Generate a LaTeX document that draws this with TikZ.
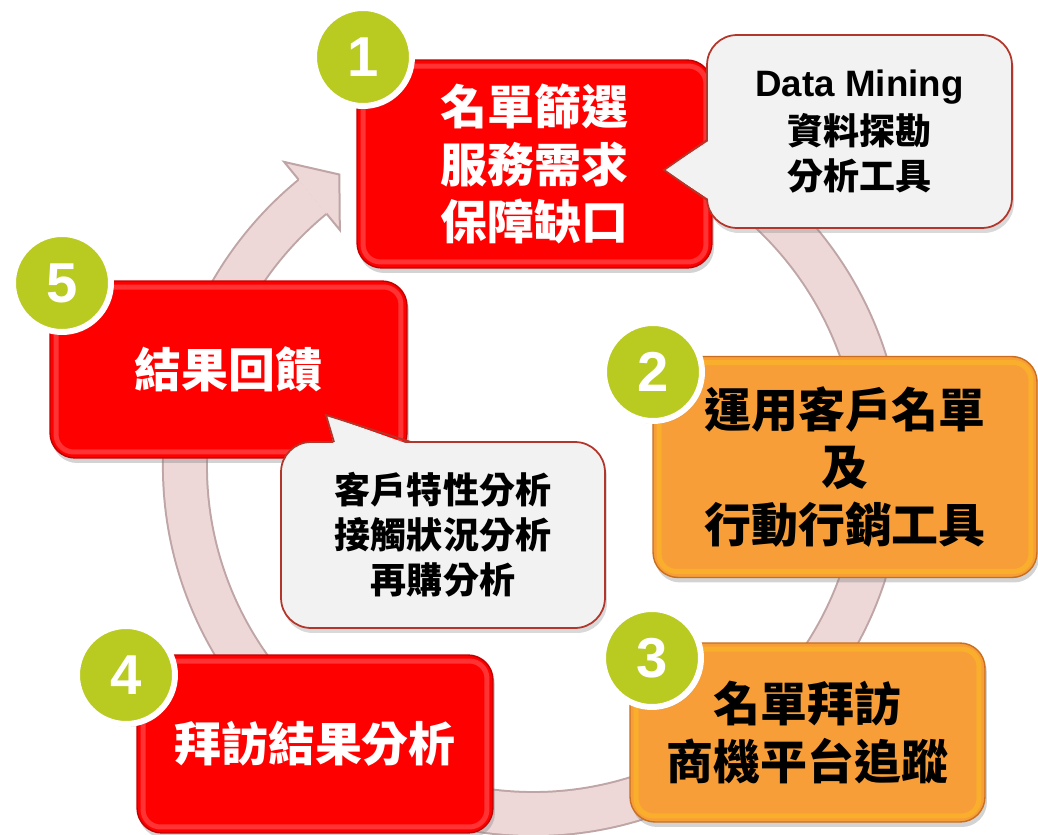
\documentclass[tikz,border=0pt]{standalone}
\usepackage{fontspec}
\setmainfont{Liberation Sans}
\newfontfamily\cjk{Noto Sans CJK TC}
\newfontfamily\dmfont{Liberation Sans}[UprightFont={* Bold}, BoldFont={* Bold}]
\usetikzlibrary{shadows}

\begin{document}
\begin{tikzpicture}[x=0.02cm, y=-0.02cm,
    box/.style={rectangle, rounded corners=0.5cm, inner sep=0pt, align=center, line width=0.8pt,
        font=\cjk\bfseries\fontsize{26.7}{32.5}\selectfont,
        drop shadow={opacity=0.35, shadow xshift=0.04cm, shadow yshift=-0.1cm}},
    bevel/.style={path picture={\draw[#1, opacity=0.2, line width=0.1cm, rounded corners=0.35cm]
        ([shift={(0.12cm,-0.12cm)}]path picture bounding box.north west) rectangle
        ([shift={(-0.12cm,0.12cm)}]path picture bounding box.south east);}},
    redbox/.style={box, fill=boxRed, draw=boxRedEdge, text=white, bevel=white},
    orangebox/.style={box, fill=boxOrange, draw=boxOrangeEdge, text=black, bevel=yellow},
    calloutbox/.style={rectangle, rounded corners=0.6cm, fill=calloutFill, draw=calloutEdge,
        line width=1pt, inner sep=0pt, align=center, font=\cjk\fontsize{20.5}{25.6}\selectfont,
        drop shadow={opacity=0.3, shadow xshift=0.04cm, shadow yshift=-0.1cm}},
    numcircle/.style={circle, fill=numGreen, draw=white, line width=3.4pt, minimum size=1.96cm,
        inner sep=0pt, text=white, font=\bfseries\fontsize{32}{32}\selectfont,
        drop shadow={opacity=0.3, shadow xshift=0.03cm, shadow yshift=-0.06cm}}
]
    \definecolor{boxRed}{HTML}{FF0000}
    \definecolor{boxRedEdge}{HTML}{C00000}
    \definecolor{boxOrange}{HTML}{F89E38}
    \definecolor{boxOrangeEdge}{HTML}{C86E1E}
    \definecolor{numGreen}{HTML}{B9CA21}
    \definecolor{calloutFill}{HTML}{F2F2F2}
    \definecolor{calloutEdge}{HTML}{B3362B}
    \definecolor{ringFill}{HTML}{EDD7D7}
    \definecolor{ringEdge}{HTML}{BFA5A5}

    \useasboundingbox (0,0) rectangle (1038,835);

    % Draw the cycle ring behind the boxes
    \begin{scope}[shift={(533,466)}]
        \draw[ringEdge, line width=0.92cm] (-80:348) arc[start angle=-80, end angle=230.7, radius=348];
        \draw[ringFill, line width=0.84cm] (-80:348) arc[start angle=-80, end angle=230.7, radius=348];
        \fill[ringFill] (230.7:393) -- (236.4:350) -- (230.7:305) -- cycle;
        \draw[ringEdge, line width=0.04cm] (230.7:370) -- (230.7:393) -- (236.4:350) -- (230.7:305) -- (230.7:326);
    \end{scope}

    % Draw the step boxes
    \node[redbox, minimum width=7.1cm, minimum height=4.16cm] (screen) at (534.5,164) {名單篩選\\服務需求\\保障缺口};
    \node[orangebox, minimum width=7.68cm, minimum height=4.42cm] (tools) at (845,467) {運用客戶名單\\及\\行動行銷工具};
    \node[orangebox, minimum width=7.1cm, minimum height=3.58cm] (visit) at (807.5,732.5) {名單拜訪\\商機平台追蹤};
    \node[redbox, minimum width=7.12cm, minimum height=3.56cm] (result) at (315,744) {拜訪結果分析};
    \node[redbox, minimum width=7.14cm, minimum height=3.54cm] (feedback) at (228.5,369.5) {結果回饋};

    % Draw the callouts
    \node[calloutbox, minimum width=6.1cm, minimum height=3.86cm] (mining) at (859.5,131.5)
        {{\dmfont\fontsize{20.9}{25.6}\selectfont Data Mining}\\[2pt]\bfseries 資料探勘\\\bfseries 分析工具};
    \fill[calloutFill] (710,140) -- (664,170) -- (710,200) -- cycle;
    \draw[calloutEdge, line width=1pt] (707,140) -- (664,170) -- (707,200);

    \node[calloutbox, minimum width=6.48cm, minimum height=3.72cm] (analysis) at (443,535)
        {\bfseries 客戶特性分析\\\bfseries 接觸狀況分析\\\bfseries 再購分析};
    \fill[calloutFill] (334,445) -- (326,415) -- (411,445) -- cycle;
    \draw[calloutEdge, line width=1pt] (334,442) -- (326,415) -- (411,442);

    % Draw the step numbers
    \node[numcircle] (n1) at (363,57) {1};
    \node[numcircle] (n2) at (653,372) {2};
    \node[numcircle] (n3) at (652,658) {3};
    \node[numcircle] (n4) at (126,675) {4};
    \node[numcircle] (n5) at (62,283) {5};

\end{tikzpicture}
\end{document}
